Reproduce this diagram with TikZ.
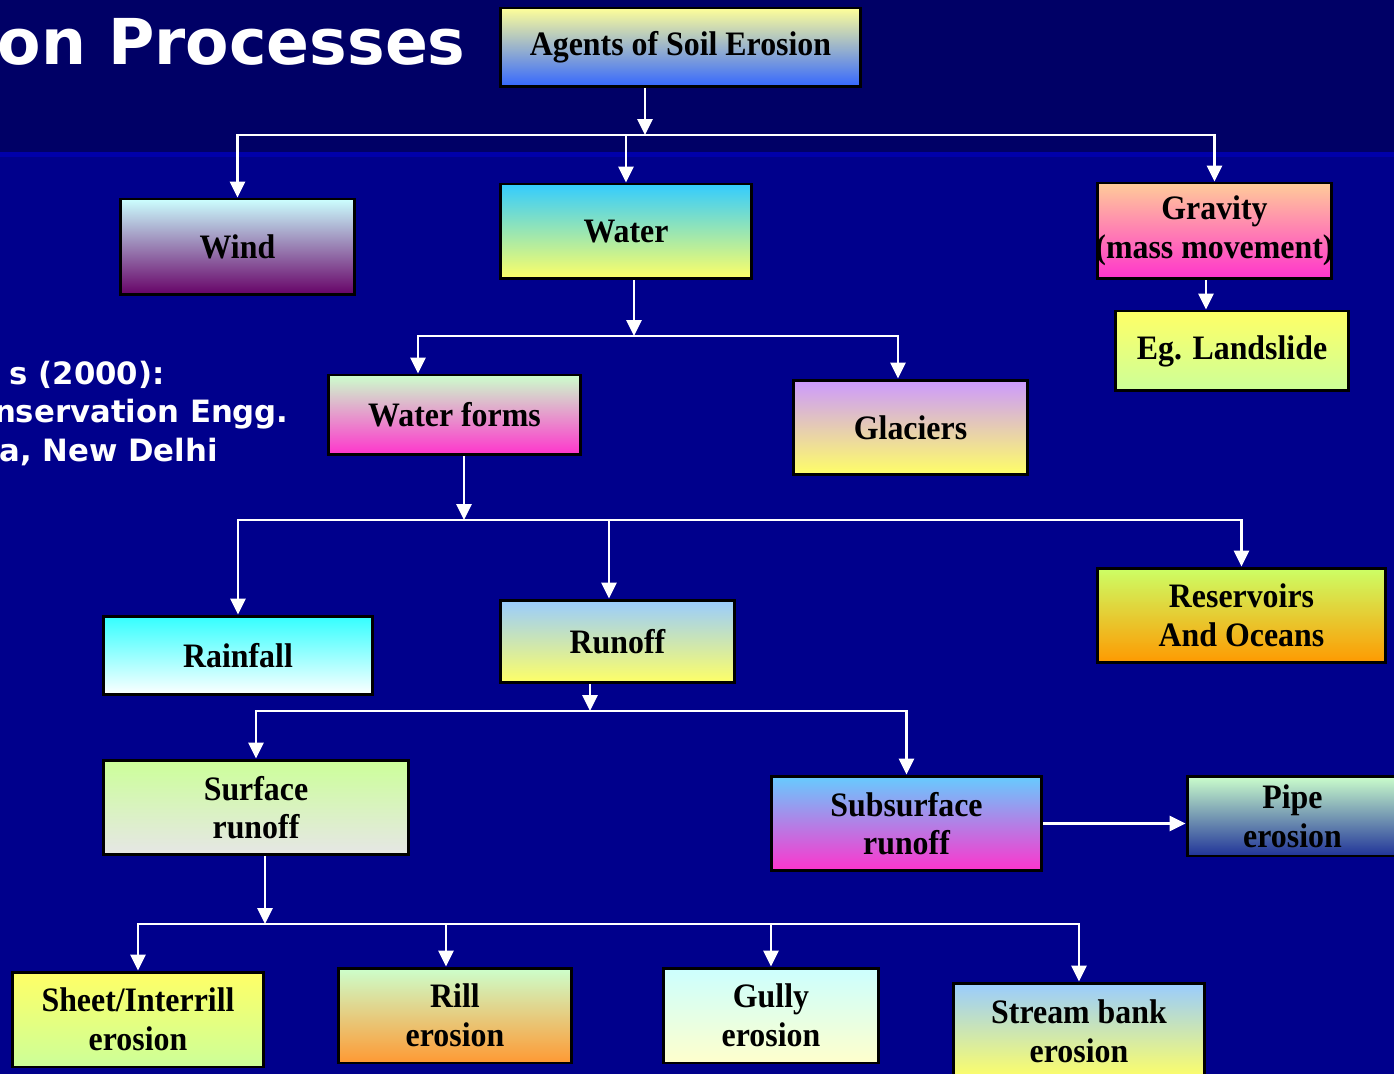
\documentclass[tikz,border=0pt]{standalone}
\usepackage{fontspec}
\usepackage{xcolor}
\usetikzlibrary{shadings, calc, arrows.meta}
\newfontfamily\boxfont{Liberation Serif}[FakeStretch=0.93]
\newfontfamily\slidefont{DejaVu Sans}
\definecolor{n1}{RGB}{0,0,102}
\definecolor{n2}{RGB}{0,0,140}
\definecolor{n3}{RGB}{0,0,170}
\definecolor{y1}{HTML}{FFFF99}
\definecolor{y2}{HTML}{FFFF66}
\definecolor{y3}{HTML}{FFFFCC}
\definecolor{c1}{HTML}{CCFFFF}
\definecolor{c2}{HTML}{33CCFF}
\definecolor{c3}{HTML}{33FFFF}
\definecolor{c4}{HTML}{99CCFF}
\definecolor{c5}{HTML}{66CCFF}
\definecolor{g1}{HTML}{CCFFCC}
\definecolor{g2}{HTML}{CCFF99}
\definecolor{g3}{HTML}{CCFF66}
\definecolor{m1}{HTML}{FF33CC}
\definecolor{o1}{HTML}{FFCC99}
\definecolor{o2}{HTML}{FF9900}
\definecolor{o3}{HTML}{FF9933}
\definecolor{v1}{HTML}{CC99FF}
\definecolor{v2}{HTML}{660066}
\definecolor{b1}{HTML}{3366FF}
\definecolor{b2}{HTML}{203399}
\definecolor{w1}{HTML}{E6E6E6}
\begin{document}
\begin{tikzpicture}[x=0.02cm, y=-0.02cm,
    box/.style={draw=black, line width=1.7pt, inner sep=0pt, align=center,
        font=\boxfont\bfseries\fontsize{19.5}{22}\selectfont},
    arr/.style={draw=white, line width=1.5pt, -{Triangle[length=9pt,width=8.5pt]}},
    slide/.style={text=white, font=\slidefont\bfseries\fontsize{17.5}{21}\selectfont, inner sep=0pt}]
			% Background (slide)
			\useasboundingbox (0,0) rectangle (1394,1074);
			\fill[n2] (0,0) rectangle (1394,1074);
			\fill[n1] (0,0) rectangle (1394,152);
			\fill[n3] (0,152) rectangle (1394,157);

			% Slide texts
			\node[slide, anchor=base east, font=\slidefont\bfseries\fontsize{36}{40}\selectfont] (title) at (466,65) {on Processes};
			\node[slide, anchor=base east] (ref1) at (165,385) {s (2000):};
			\node[slide, anchor=base east] (ref2) at (289,423) {nservation Engg.};
			\node[slide, anchor=base east] (ref3) at (218,462) {a, New Delhi};

			% Boxes
			\node[box, top color=y1, bottom color=b1, minimum width=7.22cm, minimum height=1.58cm] (agents) at (680.5,47.5) {Agents of Soil Erosion};
			\node[box, top color=c1, bottom color=v2, minimum width=4.7cm, minimum height=1.92cm] (wind) at (237.5,247) {Wind};
			\node[box, top color=c2, bottom color=y2, minimum width=5.04cm, minimum height=1.9cm] (water) at (626,231.5) {Water};
			\node[box, top color=o1, bottom color=m1, minimum width=4.7cm, minimum height=1.92cm, inner xsep=-3pt] (gravity) at (1214.5,231) {Gravity\\(mass movement)};
			\node[box, top color=y2, bottom color=g2, minimum width=4.68cm, minimum height=1.6cm] (landslide) at (1232,351) {Eg. Landslide};
			\node[box, top color=g1, bottom color=m1, minimum width=5.06cm, minimum height=1.6cm] (wforms) at (454.5,415) {Water forms};
			\node[box, top color=v1, bottom color=y2, minimum width=4.7cm, minimum height=1.9cm] (glaciers) at (910.5,427.5) {Glaciers};
			\node[box, top color=c3, bottom color=white, minimum width=5.4cm, minimum height=1.58cm] (rainfall) at (238,655.5) {Rainfall};
			\node[box, top color=c4, bottom color=y2, minimum width=4.7cm, minimum height=1.66cm] (runoff) at (617.5,641.5) {Runoff};
			\node[box, top color=g3, bottom color=o2, minimum width=5.78cm, minimum height=1.9cm] (reservoirs) at (1241.5,615.5) {Reservoirs\\And Oceans};
			\node[box, top color=g2, bottom color=w1, minimum width=6.12cm, minimum height=1.9cm] (surface) at (256,807.5) {Surface\\runoff};
			\node[box, top color=c5, bottom color=m1, minimum width=5.42cm, minimum height=1.9cm] (subsurface) at (906.5,823.5) {Subsurface\\runoff};
			\node[box, top color=g1, bottom color=b2, minimum width=4.22cm, minimum height=1.6cm] (pipe) at (1292.5,816) {Pipe\\erosion};
			\node[box, top color=y2, bottom color=g2, minimum width=5.04cm, minimum height=1.9cm] (sheet) at (138,1019.5) {Sheet/Interrill\\erosion};
			\node[box, top color=g1, bottom color=o3, minimum width=4.68cm, minimum height=1.9cm] (rill) at (455,1015.5) {Rill\\erosion};
			\node[box, top color=c1, bottom color=y3, minimum width=4.32cm, minimum height=1.9cm] (gully) at (771,1015.5) {Gully\\erosion};
			\node[box, top color=c4, bottom color=y2, minimum width=5.04cm, minimum height=1.92cm] (stream) at (1079,1031) {Stream bank\\erosion};

			% Junctions and drop points
			\coordinate (jA) at (645,135);
			\coordinate (jB) at (634,336);
			\coordinate (jC) at (464,520);
			\coordinate (jD) at (590,711);
			\coordinate (jE) at (265,924);
			\coordinate (xWF) at (418,0);
			\coordinate (xGL) at (898,0);
			\coordinate (xRO) at (609,0);
			\coordinate (xLS) at (1206,0);
			\coordinate (xRI) at (446,0);

			% Agents
			\draw[arr] (agents.south -| jA) -- (jA);
			\draw[arr] (jA) -| (wind);
			\draw[arr] (jA) -| (water);
			\draw[arr] (jA) -| (gravity);
			\draw[arr] (xLS |- gravity.south) -- (xLS |- landslide.north);

			% Water
			\draw[arr] (water.south -| jB) -- (jB);
			\draw[arr] (jB) -| (xWF |- wforms.north);
			\draw[arr] (jB) -| (xGL |- glaciers.north);

			% Water forms
			\draw[arr] (wforms.south -| jC) -- (jC);
			\draw[arr] (jC) -| (rainfall);
			\draw[arr] (jC) -| (xRO |- runoff.north);
			\draw[arr] (jC) -| (reservoirs);

			% Runoff
			\draw[arr] (runoff.south -| jD) -- (jD);
			\draw[arr] (jD) -| (surface);
			\draw[arr] (jD) -| (subsurface);
			\draw[arr] (subsurface.east) -- (subsurface.east -| pipe.west);

			% Surface runoff
			\draw[arr] (surface.south -| jE) -- (jE);
			\draw[arr] (jE) -| (sheet);
			\draw[arr] (jE) -| (xRI |- rill.north);
			\draw[arr] (jE) -| (gully);
			\draw[arr] (jE) -| (stream);
		\end{tikzpicture}
\end{document}
